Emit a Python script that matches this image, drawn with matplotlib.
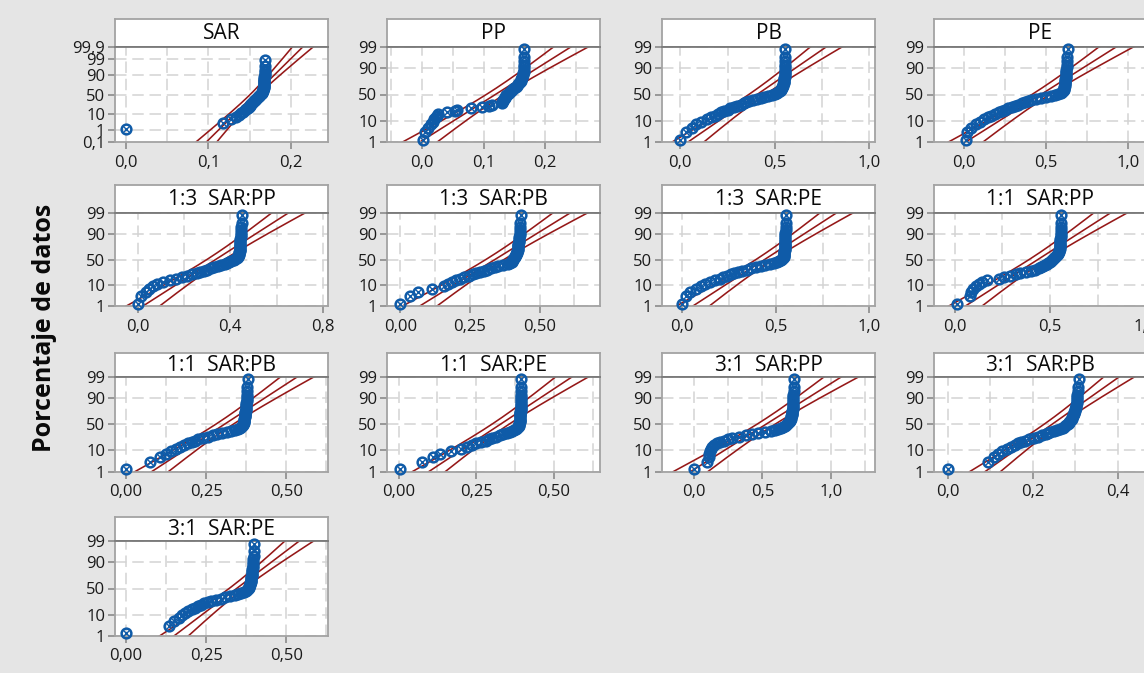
import numpy as np
import matplotlib
matplotlib.use("Agg")
import matplotlib.pyplot as plt
from statistics import NormalDist

# ---------------------------------------------------------------- data
TITLES = ["SAR", "PP", "PB", "PE",
          "1:3  SAR:PP", "1:3  SAR:PB", "1:3  SAR:PE", "1:1  SAR:PP",
          "1:1  SAR:PB", "1:1  SAR:PE", "3:1  SAR:PP", "3:1  SAR:PB",
          "3:1  SAR:PE"]

SAR = [0.000, 0.118, 0.128, 0.133, 0.137, 0.140, 0.142, 0.144, 0.146, 0.148,
       0.149, 0.150, 0.151, 0.152, 0.153, 0.154, 0.155, 0.156, 0.157, 0.158,
       0.159, 0.160, 0.161, 0.162, 0.163, 0.164, 0.165, 0.165, 0.165, 0.166,
       0.166, 0.166, 0.166, 0.167, 0.167, 0.167, 0.167, 0.167, 0.168, 0.168,
       0.168, 0.168, 0.168, 0.168, 0.169, 0.169, 0.169, 0.169, 0.169, 0.169]
PP = [0.002, 0.004, 0.010, 0.014, 0.018, 0.020, 0.022, 0.024, 0.026, 0.040,
      0.053, 0.056, 0.080, 0.097, 0.108, 0.113, 0.129, 0.130, 0.131, 0.132,
      0.133, 0.134, 0.135, 0.136, 0.137, 0.139, 0.141, 0.143, 0.144, 0.146,
      0.148, 0.150, 0.152, 0.154, 0.156, 0.158, 0.159, 0.160, 0.161, 0.162,
      0.163, 0.164, 0.164, 0.165, 0.165, 0.165, 0.166, 0.166, 0.166, 0.166]
PB = [0.000, 0.030, 0.060, 0.085, 0.110, 0.140, 0.160, 0.185, 0.200, 0.215,
      0.230, 0.250, 0.265, 0.285, 0.300, 0.320, 0.335, 0.350, 0.365, 0.385,
      0.405, 0.425, 0.445, 0.465, 0.485, 0.500, 0.510, 0.518, 0.525, 0.530,
      0.535, 0.538, 0.540, 0.542, 0.544, 0.546, 0.548, 0.549, 0.550, 0.551,
      0.552, 0.552, 0.553, 0.553, 0.554, 0.554, 0.555, 0.555, 0.556, 0.556]
PE = [0.010, 0.020, 0.040, 0.070, 0.095, 0.120, 0.145, 0.165, 0.190, 0.210,
      0.230, 0.250, 0.270, 0.290, 0.310, 0.330, 0.350, 0.370, 0.390, 0.410,
      0.440, 0.470, 0.500, 0.530, 0.555, 0.575, 0.590, 0.598, 0.603, 0.606,
      0.608, 0.610, 0.611, 0.612, 0.613, 0.614, 0.615, 0.616, 0.617, 0.618,
      0.619, 0.620, 0.621, 0.622, 0.623, 0.624, 0.625, 0.626, 0.628, 0.630]
SAR_PP_13 = [0.000, 0.015, 0.035, 0.050, 0.065, 0.085, 0.110, 0.140, 0.165, 0.190,
             0.215, 0.235, 0.255, 0.270, 0.285, 0.300, 0.315, 0.330, 0.345, 0.360,
             0.375, 0.385, 0.395, 0.405, 0.415, 0.422, 0.428, 0.432, 0.435, 0.437,
             0.438, 0.439, 0.439, 0.440, 0.440, 0.441, 0.441, 0.442, 0.442, 0.443,
             0.443, 0.444, 0.444, 0.445, 0.445, 0.446, 0.447, 0.448, 0.449, 0.450]
SAR_PB_13 = [0.000, 0.035, 0.065, 0.115, 0.155, 0.170, 0.185, 0.200, 0.215, 0.230,
             0.245, 0.260, 0.270, 0.285, 0.300, 0.312, 0.325, 0.340, 0.352, 0.370,
             0.385, 0.395, 0.400, 0.402, 0.404, 0.406, 0.408, 0.410, 0.412, 0.414,
             0.416, 0.418, 0.419, 0.420, 0.421, 0.422, 0.422, 0.423, 0.424, 0.424,
             0.425, 0.426, 0.426, 0.427, 0.428, 0.428, 0.429, 0.430, 0.431, 0.432]
SAR_PE_13 = [0.000, 0.020, 0.045, 0.075, 0.100, 0.125, 0.150, 0.175, 0.200, 0.220,
             0.240, 0.260, 0.280, 0.300, 0.320, 0.345, 0.370, 0.395, 0.420, 0.445,
             0.470, 0.490, 0.505, 0.518, 0.528, 0.535, 0.540, 0.542, 0.543, 0.544,
             0.545, 0.545, 0.546, 0.546, 0.547, 0.547, 0.548, 0.548, 0.549, 0.549,
             0.550, 0.550, 0.551, 0.551, 0.552, 0.552, 0.553, 0.554, 0.555, 0.556]
SAR_PP_11 = [0.010, 0.080, 0.088, 0.098, 0.110, 0.125, 0.145, 0.170, 0.230, 0.260,
             0.290, 0.320, 0.345, 0.375, 0.400, 0.420, 0.440, 0.455, 0.465, 0.475,
             0.485, 0.492, 0.500, 0.507, 0.513, 0.518, 0.523, 0.528, 0.532, 0.536,
             0.540, 0.543, 0.546, 0.548, 0.550, 0.551, 0.552, 0.553, 0.553, 0.554,
             0.554, 0.555, 0.555, 0.556, 0.556, 0.557, 0.557, 0.558, 0.559, 0.560]
SAR_PB_11 = [0.000, 0.075, 0.105, 0.125, 0.140, 0.155, 0.168, 0.180, 0.195, 0.205,
             0.215, 0.225, 0.240, 0.255, 0.270, 0.285, 0.300, 0.315, 0.328, 0.340,
             0.350, 0.356, 0.360, 0.363, 0.365, 0.366, 0.367, 0.368, 0.368, 0.369,
             0.369, 0.370, 0.370, 0.371, 0.371, 0.372, 0.372, 0.373, 0.373, 0.374,
             0.374, 0.375, 0.375, 0.376, 0.376, 0.377, 0.377, 0.378, 0.379, 0.380]
SAR_PE_11 = [0.005, 0.075, 0.110, 0.135, 0.170, 0.200, 0.220, 0.235, 0.250, 0.265,
             0.280, 0.290, 0.300, 0.312, 0.325, 0.337, 0.348, 0.358, 0.366, 0.372,
             0.377, 0.381, 0.384, 0.386, 0.388, 0.389, 0.389, 0.390, 0.390, 0.390,
             0.391, 0.391, 0.391, 0.392, 0.392, 0.392, 0.392, 0.393, 0.393, 0.393,
             0.393, 0.394, 0.394, 0.394, 0.394, 0.394, 0.395, 0.395, 0.395, 0.395]
SAR_PP_31 = [0.000, 0.095, 0.105, 0.110, 0.115, 0.120, 0.130, 0.145, 0.165, 0.190,
             0.215, 0.245, 0.280, 0.330, 0.380, 0.420, 0.470, 0.520, 0.560, 0.590,
             0.615, 0.635, 0.650, 0.662, 0.672, 0.680, 0.687, 0.693, 0.698, 0.702,
             0.706, 0.709, 0.712, 0.714, 0.716, 0.717, 0.718, 0.719, 0.720, 0.721,
             0.722, 0.723, 0.724, 0.725, 0.725, 0.726, 0.727, 0.728, 0.729, 0.730]
SAR_PB_31 = [0.000, 0.095, 0.108, 0.118, 0.128, 0.138, 0.148, 0.157, 0.165, 0.173,
             0.182, 0.192, 0.202, 0.212, 0.222, 0.230, 0.235, 0.240, 0.250, 0.258,
             0.265, 0.270, 0.273, 0.276, 0.279, 0.282, 0.284, 0.286, 0.288, 0.290,
             0.292, 0.293, 0.294, 0.295, 0.296, 0.297, 0.298, 0.299, 0.300, 0.301,
             0.302, 0.302, 0.303, 0.303, 0.304, 0.304, 0.305, 0.306, 0.307, 0.308]
SAR_PE_31 = [0.000, 0.135, 0.150, 0.165, 0.175, 0.185, 0.195, 0.205, 0.215, 0.225,
             0.235, 0.245, 0.255, 0.265, 0.280, 0.295, 0.310, 0.325, 0.340, 0.350,
             0.360, 0.368, 0.374, 0.378, 0.381, 0.383, 0.384, 0.385, 0.386, 0.387,
             0.388, 0.389, 0.390, 0.390, 0.391, 0.391, 0.392, 0.392, 0.393, 0.393,
             0.394, 0.394, 0.395, 0.395, 0.396, 0.396, 0.397, 0.398, 0.399, 0.400]

SAMPLES = [SAR, PP, PB, PE, SAR_PP_13, SAR_PB_13, SAR_PE_13, SAR_PP_11,
           SAR_PB_11, SAR_PE_11, SAR_PP_31, SAR_PB_31, SAR_PE_31]

# fitted normal distribution (location, scale) of each sample
FIT_MEAN = [0.156, 0.119, 0.406, 0.468, 0.336, 0.339, 0.440, 0.436,
            0.3075, 0.328, 0.526, 0.2455, 0.345]
FIT_SD = [0.019, 0.053, 0.158, 0.198, 0.136, 0.117, 0.166, 0.165,
          0.0978, 0.0993, 0.238, 0.0681, 0.084]

# axis ticks
XTICKS = [[0.0, 0.1, 0.2], [0.0, 0.1, 0.2], [0.0, 0.5, 1.0], [0.0, 0.5, 1.0],
          [0.0, 0.4, 0.8], [0.0, 0.25, 0.5], [0.0, 0.5, 1.0], [0.0, 0.5, 1.0],
          [0.0, 0.25, 0.5], [0.0, 0.25, 0.5], [0.0, 0.5, 1.0], [0.0, 0.2, 0.4],
          [0.0, 0.25, 0.5]]
XDECIMALS = [1, 1, 1, 1, 1, 2, 1, 1, 2, 2, 1, 1, 2]
YTICKS_WIDE = [0.1, 1, 10, 50, 90, 99, 99.9]
YTICKS = [1, 10, 50, 90, 99]

# ---------------------------------------------------------------- layout
W, H, DPI = 1144, 673, 100
XLIM = [(-0.013, 0.245), (-0.057, 0.289), (-0.097, 1.030), (-0.183, 1.114),
        (-0.098, 0.822), (-0.048, 0.717), (-0.107, 1.030), (-0.109, 1.010),
        (-0.034, 0.630), (-0.037, 0.648), (-0.236, 1.324), (-0.033, 0.469),
        (-0.034, 0.630)]
COL_LEFT = [115, 387, 662, 934]
PANEL_W = 213
ROWS = [(19, 46.7, 142.3), (185, 212.7, 306.5), (352.7, 376.7, 471.7),
        (517, 541, 636)]

BG = "#e5e5e5"
BLUE = "#0f5ba8"
RED = "#951818"
GRID = "#d3d3d3"
FRAME = "#a3a3a3"

plt.rcParams["font.family"] = ["Open Sans", "DejaVu Sans"]

fig = plt.figure(figsize=(W / DPI, H / DPI), dpi=DPI, facecolor=BG)
nd = NormalDist()


def px_axes(left, top, width, height):
    return fig.add_axes([left / W, 1 - (top + height) / H, width / W, height / H])


def fmt(v, d):
    return f"{v:.{d}f}".replace(".", ",")


def fmt_pct(p):
    return f"{p:g}".replace(".", ",")


DASH = (0, (7.5, 3.8))

for k, title in enumerate(TITLES):
    r, c = divmod(k, 4)
    top_t, top_p, bot_p = ROWS[r]
    left = COL_LEFT[c]

    # title strip
    tax = px_axes(left, top_t, PANEL_W, top_p - top_t)
    tax.set_facecolor("white")
    tax.set_xticks([])
    tax.set_yticks([])
    for s in tax.spines.values():
        s.set_color(FRAME)
        s.set_linewidth(1.3)
    tax.spines["bottom"].set_color("#7a7a7a")
    tax.text(0.5, 0.47, title, ha="center", va="center", fontsize=15,
             color="#0a0a0a", transform=tax.transAxes)

    ax = px_axes(left, top_p, PANEL_W, bot_p - top_p)
    ax.set_facecolor("white")
    for s in ax.spines.values():
        s.set_color(FRAME)
        s.set_linewidth(1.3)
    ax.spines["top"].set_color("#7a7a7a")

    pct = YTICKS_WIDE if k == 0 else YTICKS
    zlo, zhi = nd.inv_cdf(pct[0] / 100), nd.inv_cdf(pct[-1] / 100)
    ax.set_ylim(zlo, zhi)
    ax.set_xlim(*XLIM[k])

    # grid: dashed, major and half-step vertical lines
    xt = XTICKS[k]
    step = (xt[1] - xt[0]) / 2
    gx = np.arange(np.ceil(XLIM[k][0] / step) * step, XLIM[k][1], step)
    for g in gx:
        ax.axvline(g, color=GRID, lw=1.1, ls=DASH, zorder=0)
    for p in YTICKS:
        ax.axhline(nd.inv_cdf(p / 100), color=GRID, lw=1.1, ls=DASH, zorder=0)

    ax.set_yticks([nd.inv_cdf(p / 100) for p in pct])
    ax.set_yticklabels([fmt_pct(p) for p in pct])
    ax.set_xticks(xt)
    ax.set_xticklabels([fmt(v, XDECIMALS[k]) for v in xt])
    ax.tick_params(axis="both", direction="out", length=5, width=1.2,
                   color="#8a8a8a", labelsize=12, labelcolor="#1a1a1a", pad=2)
    ax.tick_params(axis="x", pad=4)

    # fitted line and 95% confidence band
    data = np.sort(np.asarray(SAMPLES[k]))
    n = len(data)
    mu, sd = FIT_MEAN[k], FIT_SD[k]
    zz = np.linspace(zlo, zhi, 200)
    fitx = mu + sd * zz
    half = 1.96 * sd * np.sqrt((1 + zz ** 2 / 2) / n)
    for xs in (fitx - half, fitx, fitx + half):
        ax.plot(xs, zz, color=RED, lw=1.15, zorder=2)

    # data at median-rank plotting positions
    ranks = np.arange(1, n + 1)
    zp = np.array([nd.inv_cdf((i - 0.3) / (n + 0.4)) for i in ranks])
    ax.plot(data, zp, "o", mfc="none", mec=BLUE, ms=7, mew=1.8, zorder=3,
            clip_on=False)
    ax.plot(data, zp, "x", color=BLUE, ms=3.8, mew=1.0, zorder=3, clip_on=False)

fig.text(45 / W, 1 - 328 / H, "Porcentaje de datos", rotation=90,
         ha="center", va="center", fontsize=18, fontweight="bold",
         color="#0a0a0a")

fig.savefig("out.png", dpi=DPI, facecolor=BG)
